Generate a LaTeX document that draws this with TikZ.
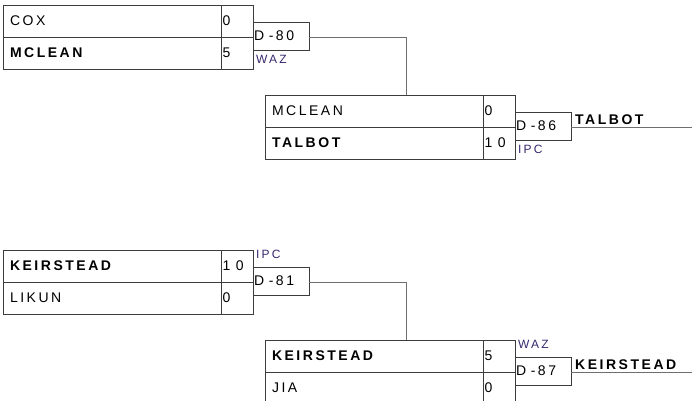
\documentclass[tikz,border=0pt]{standalone}
\usepackage{fontspec}
\setmainfont{Liberation Sans}
\newfontfamily\namefont[LetterSpace=18]{Liberation Sans}
\newfontfamily\scorefont[LetterSpace=40]{Liberation Sans}
\usetikzlibrary{positioning}
\definecolor{boxgray}{RGB}{60,60,60}
\definecolor{wiregray}{RGB}{110,110,110}
\definecolor{tagblue}{RGB}{55,40,110}
\tikzset{
  namecell/.style={rectangle, draw=boxgray, line width=0.9pt, anchor=north west,
    outer sep=0pt, minimum width=218pt, minimum height=32pt, text width=204pt,
    inner xsep=7pt, align=left, font=\fontsize{14}{14}\namefont},
  winner/.style={font=\fontsize{14}{14}\namefont\bfseries},
  scorecell/.style={rectangle, draw=boxgray, line width=0.9pt, anchor=north west,
    outer sep=0pt, minimum width=32pt, minimum height=32pt, text width=29pt,
    inner xsep=1.5pt, align=left, font=\fontsize{14}{14}\scorefont},
  gamebox/.style={rectangle, draw=boxgray, line width=0.9pt, anchor=north west,
    outer sep=0pt, minimum width=56pt, minimum height=28pt, text width=54pt,
    inner xsep=1pt, align=left, font=\fontsize{14}{14}\namefont},
  tag/.style={anchor=west, inner sep=0pt, text=tagblue,
    font=\fontsize{12}{12}\namefont},
  champ/.style={anchor=south west, inner sep=2pt, font=\fontsize{14}{14}\namefont\bfseries},
  wire/.style={draw=wiregray, line width=1pt}
}
\begin{document}
\begin{tikzpicture}[x=1pt, y=-1pt]
  \useasboundingbox (0,0) rectangle (692,400);

  % first bracket, round one
  \node[namecell] (cox) at (3,5) {COX};
  \node[namecell, winner] (mclean) at (cox.south west) {MCLEAN};
  \node[scorecell] (coxs) at (cox.north east) {0};
  \node[scorecell] (mcleans) at (mclean.north east) {5};
  \node[gamebox] (d80) at (253,22) {D -80};
  \node[tag] at (256,59) {WAZ};

  % first bracket, round two
  \node[namecell] (mclean2) at (265,95) {MCLEAN};
  \node[namecell, winner] (talbot) at (mclean2.south west) {TALBOT};
  \node[scorecell] (mclean2s) at (mclean2.north east) {0};
  \node[scorecell] (talbots) at (talbot.north east) {10};
  \node[gamebox] (d86) at (515,112) {D -86};
  \node[tag] at (518,149) {IPC};
  \coordinate (join1) at (406,95);
  \coordinate (end1) at (692,127);
  \node[champ] at (573,127) {TALBOT};

  \draw[wire] (d80.east |- mclean.north) -| (join1);
  \draw[wire] (d86.east |- talbot.north) -- (end1);

  % second bracket, round one
  \node[namecell, winner] (keir) at (3,250) {KEIRSTEAD};
  \node[namecell] (likun) at (keir.south west) {LIKUN};
  \node[scorecell] (keirs) at (keir.north east) {10};
  \node[scorecell] (likuns) at (likun.north east) {0};
  \node[gamebox] (d81) at (253,267) {D -81};
  \node[tag] at (256,254) {IPC};

  % second bracket, round two
  \node[namecell, winner] (keir2) at (265,340) {KEIRSTEAD};
  \node[namecell] (jia) at (keir2.south west) {JIA};
  \node[scorecell] (keir2s) at (keir2.north east) {5};
  \node[scorecell] (jias) at (jia.north east) {0};
  \node[gamebox] (d87) at (515,357) {D -87};
  \node[tag] at (518,344) {WAZ};
  \coordinate (join2) at (406,340);
  \coordinate (end2) at (692,372);
  \node[champ] at (573,372) {KEIRSTEAD};

  \draw[wire] (d81.east |- likun.north) -| (join2);
  \draw[wire] (d87.east |- jia.north) -- (end2);
\end{tikzpicture}
\end{document}
